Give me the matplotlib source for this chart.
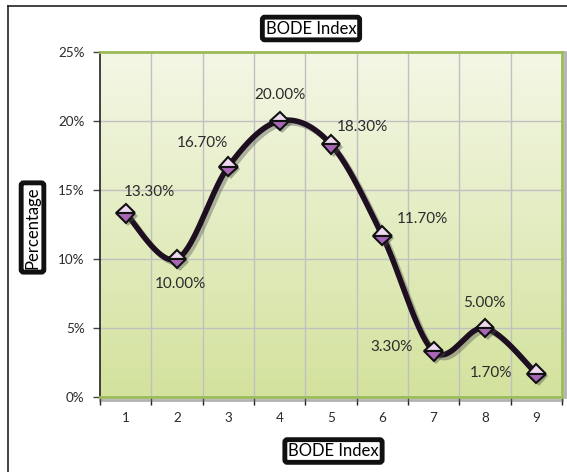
import numpy as np
import matplotlib
matplotlib.use("Agg")
import matplotlib.pyplot as plt
import matplotlib.patheffects as pe
from matplotlib.colors import LinearSegmentedColormap
from matplotlib.lines import Line2D

plt.rcParams['font.family'] = ['Lato', 'DejaVu Sans']

# BODE index distribution (percent of patients)
categories = [1, 2, 3, 4, 5, 6, 7, 8, 9]
percentages = [13.3, 10.0, 16.7, 20.0, 18.3, 11.7, 3.3, 5.0, 1.7]
y_ticks = [0, 5, 10, 15, 20, 25]

# label offsets in pixels from each point
label_offsets = [(24, 21), (3, -25), (-26, 24), (0, 26), (31, 17),
                 (40, 17), (-42, 4), (-1, 25), (-45, 1)]

text_color = "#2b2b2b"


def smooth_curve(xs, ys, n=40):
    # Catmull-Rom spline through the points (like a smoothed line)
    pts = np.column_stack([xs, ys]).astype(float)
    pts = np.vstack([pts[0], pts, pts[-1]])
    out = []
    t = np.linspace(0, 1, n)
    for i in range(1, len(pts) - 2):
        p0, p1, p2, p3 = pts[i - 1], pts[i], pts[i + 1], pts[i + 2]
        c1 = p1 + (p2 - p0) / 6
        c2 = p2 - (p3 - p1) / 6
        seg = ((1 - t) ** 3)[:, None] * p1 + (3 * (1 - t) ** 2 * t)[:, None] * c1 \
            + (3 * (1 - t) * t ** 2)[:, None] * c2 + (t ** 3)[:, None] * p2
        out.append(seg if i == 1 else seg[1:])
    out = np.vstack(out)
    return out[:, 0], out[:, 1]


fig = plt.figure(figsize=(5.67, 4.72), dpi=100)
ax = fig.add_axes([100 / 567, 75 / 472, 462 / 567, 345 / 472])

# background gradient
grad = LinearSegmentedColormap.from_list("bg", ["#d3e29d", "#f4f7e6"])
ax.imshow(np.linspace(0, 1, 256).reshape(-1, 1), cmap=grad, origin="lower",
          extent=[0.5, 9.5, 0, 25], aspect="auto", zorder=0)

ax.set_xlim(0.5, 9.5)
ax.set_ylim(0, 25)

# grid at category boundaries and every 5%
for b in np.arange(1.5, 9.5, 1):
    ax.axvline(b, color="#c0c0c0", lw=1, zorder=1)
for yv in y_ticks[1:-1]:
    ax.axhline(yv, color="#c0c0c0", lw=1, zorder=1)

sx, sy = smooth_curve(categories, percentages)
ax.plot(sx, sy, color="#1e0f20", lw=4, zorder=3, solid_capstyle="round",
        path_effects=[pe.SimpleLineShadow(offset=(2, -2), shadow_color="#555555", alpha=0.4),
                      pe.Normal()])

ax.plot(categories, percentages, linestyle="none", marker="D", markersize=9.5,
        fillstyle="top", markerfacecolor="#eed9f0", markerfacecoloralt="#a866b4",
        markeredgecolor="#111111", markeredgewidth=1.5, zorder=4,
        path_effects=[pe.SimplePatchShadow(offset=(2, -2), shadow_rgbFace="#444444", alpha=0.4),
                      pe.Normal()])

for x, y, (dx, dy) in zip(categories, percentages, label_offsets):
    ax.annotate(f"{y:.2f}%", (x, y), xytext=(dx, dy), textcoords="offset pixels",
                ha="center", va="center", fontsize=11, color=text_color, zorder=5)

# axes ticks
ax.set_yticks(y_ticks)
ax.set_yticklabels([f"{v}%" for v in y_ticks])
ax.set_xticks(np.arange(0.5, 10, 1))
ax.set_xticklabels([])
ax.set_xticks(categories, minor=True)
ax.set_xticklabels([str(c) for c in categories], minor=True)
ax.tick_params(axis="y", direction="out", length=5, width=1, color="#444444",
               labelsize=9.7, labelcolor=text_color, pad=6)
ax.tick_params(axis="x", which="major", direction="out", length=6, width=1, color="#222222")
ax.tick_params(axis="x", which="minor", length=0, width=0, labelsize=9.7,
               labelcolor=text_color, pad=11)

for side in ["top", "right", "bottom"]:
    ax.spines[side].set_color("#9bbb59")
    ax.spines[side].set_linewidth(2)
ax.spines["left"].set_color("#222222")
ax.spines["left"].set_linewidth(1.2)
ax.spines["bottom"].set_path_effects([pe.SimpleLineShadow(offset=(0, -2), shadow_color="#666666", alpha=0.5), pe.Normal()])
ax.spines["right"].set_path_effects([pe.SimpleLineShadow(offset=(2, 0), shadow_color="#666666", alpha=0.5), pe.Normal()])

box = dict(boxstyle="round,pad=0.2,rounding_size=0.15", fc="white", ec="#111111", lw=3.5)
fig.text(311 / 567, 1 - 28.5 / 472, "BODE Index", ha="center", va="center",
         fontsize=12, color="black", bbox=box)
fig.text(333.5 / 567, 1 - 451 / 472, "BODE Index", ha="center", va="center",
         fontsize=12, color="black", bbox=box)
fig.text(32.5 / 567, 1 - 227.5 / 472, "Percentage", ha="center", va="center",
         rotation=90, fontsize=12, color="black", bbox=box)

# outer frame (top and left edges)
fig.add_artist(Line2D([8 / 567, 1], [1 - 6 / 472, 1 - 6 / 472], transform=fig.transFigure,
                      color="#222222", lw=1.2))
fig.add_artist(Line2D([8 / 567, 8 / 567], [0, 1 - 6 / 472], transform=fig.transFigure,
                      color="#222222", lw=1.2))

fig.savefig("out.png", dpi=100)
